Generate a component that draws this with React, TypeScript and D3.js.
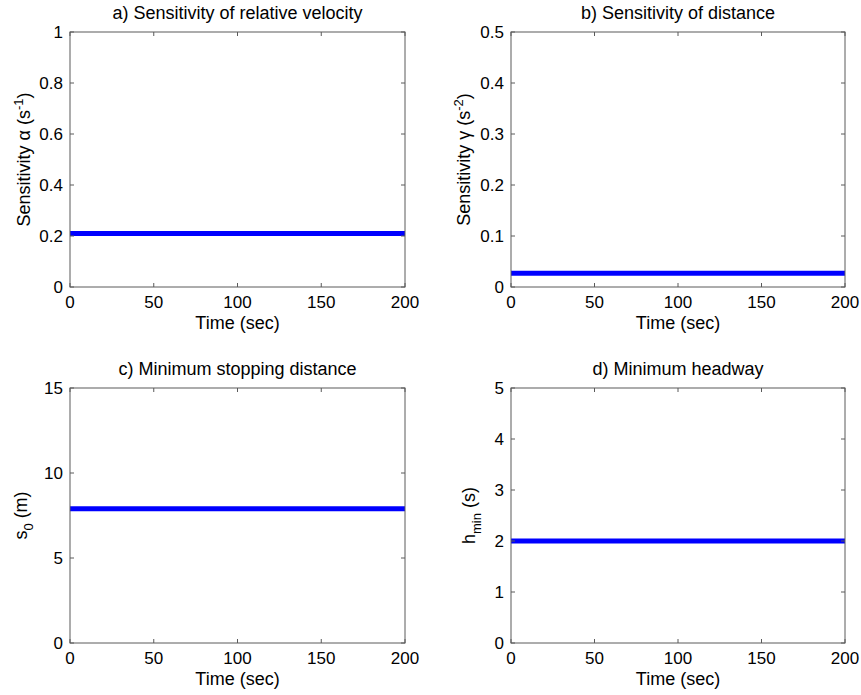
import React from "react";
import * as d3 from "d3";

const time = [0, 200];
const alphaValues = [0.21, 0.21];
const gammaValues = [0.027, 0.027];
const s0Values = [7.9, 7.9];
const hminValues = [2, 2];

const xTicks = [0, 50, 100, 150, 200];
const yTicksA = [0, 0.2, 0.4, 0.6, 0.8, 1];
const yTicksB = [0, 0.1, 0.2, 0.3, 0.4, 0.5];
const yTicksC = [0, 5, 10, 15];
const yTicksD = [0, 1, 2, 3, 4, 5];

const titles = [
  "a) Sensitivity of relative velocity",
  "b) Sensitivity of distance",
  "c) Minimum stopping distance",
  "d) Minimum headway",
];

type PanelProps = {
  left: number;
  top: number;
  width: number;
  height: number;
  yDomain: [number, number];
  yTicks: number[];
  values: number[];
  title: string;
  ylabel: React.ReactNode;
  ylabelX: number;
};

const FONT = "Liberation Sans, Arial, sans-serif";
const AX = "#5a5a5a";
const TICK_FS = 17;
const LABEL_FS = 18;

function Panel(p: PanelProps) {
  const x = d3.scaleLinear().domain([0, 200]).range([p.left, p.left + p.width]);
  const y = d3.scaleLinear().domain(p.yDomain).range([p.top + p.height, p.top]);
  const pts = time.map((t, i) => [t, p.values[i]] as [number, number]);
  const line = d3
    .line<[number, number]>()
    .x((d) => x(d[0]))
    .y((d) => y(d[1]));
  const bottom = p.top + p.height;
  const right = p.left + p.width;
  const tl = 4;
  const cy = p.top + p.height / 2;
  return (
    <g>
      <text
        x={p.left + p.width / 2}
        y={p.top - 13}
        textAnchor="middle"
        fontSize={LABEL_FS}
        fontFamily={FONT}
      >
        {p.title}
      </text>
      <path d={line(pts) || ""} stroke="#0000ff" strokeWidth={5} fill="none" />
      <rect
        x={p.left}
        y={p.top}
        width={p.width}
        height={p.height}
        fill="none"
        stroke={AX}
        strokeWidth={1}
      />
      {xTicks.map((t) => (
        <g key={"x" + t}>
          <line x1={x(t)} x2={x(t)} y1={bottom} y2={bottom - tl} stroke={AX} />
          <line x1={x(t)} x2={x(t)} y1={p.top} y2={p.top + tl} stroke={AX} />
          <text
            x={x(t)}
            y={bottom + 21}
            textAnchor="middle"
            fontSize={TICK_FS}
            fontFamily={FONT}
          >
            {t}
          </text>
        </g>
      ))}
      {p.yTicks.map((t) => (
        <g key={"y" + t}>
          <line x1={p.left} x2={p.left + tl} y1={y(t)} y2={y(t)} stroke={AX} />
          <line x1={right} x2={right - tl} y1={y(t)} y2={y(t)} stroke={AX} />
          <text
            x={p.left - 7}
            y={y(t)}
            dy="0.35em"
            textAnchor="end"
            fontSize={TICK_FS}
            fontFamily={FONT}
          >
            {t}
          </text>
        </g>
      ))}
      <text
        x={p.left + p.width / 2}
        y={bottom + 42}
        textAnchor="middle"
        fontSize={LABEL_FS}
        fontFamily={FONT}
      >
        Time (sec)
      </text>
      <text
        transform={`translate(${p.ylabelX},${cy}) rotate(-90)`}
        textAnchor="middle"
        fontSize={LABEL_FS}
        fontFamily={FONT}
      >
        {p.ylabel}
      </text>
    </g>
  );
}

export default function App() {
  const W = 335;
  const H = 255;
  return (
    <svg
      width={861}
      height={695}
      style={{ position: "absolute", left: 0, top: 0, background: "#fff" }}
    >
      <rect x={0} y={0} width={861} height={695} fill="#fff" />
      <Panel
        left={70}
        top={32}
        width={W}
        height={H}
        yDomain={[0, 1]}
        yTicks={yTicksA}
        values={alphaValues}
        title={titles[0]}
        ylabelX={30}
        ylabel={
          <>
            <tspan>Sensitivity α (s</tspan>
            <tspan dy={-7} fontSize={13}>-1</tspan>
            <tspan dy={7}>)</tspan>
          </>
        }
      />
      <Panel
        left={511}
        top={32}
        width={W - 1}
        height={H}
        yDomain={[0, 0.5]}
        yTicks={yTicksB}
        values={gammaValues}
        title={titles[1]}
        ylabelX={470}
        ylabel={
          <>
            <tspan>Sensitivity γ (s</tspan>
            <tspan dy={-7} fontSize={13}>-2</tspan>
            <tspan dy={7}>)</tspan>
          </>
        }
      />
      <Panel
        left={70}
        top={388}
        width={W}
        height={H}
        yDomain={[0, 15]}
        yTicks={yTicksC}
        values={s0Values}
        title={titles[2]}
        ylabelX={27}
        ylabel={
          <>
            <tspan>s</tspan>
            <tspan dy={6} fontSize={13}>0</tspan>
            <tspan dy={-6}> (m)</tspan>
          </>
        }
      />
      <Panel
        left={511}
        top={388}
        width={W - 1}
        height={H}
        yDomain={[0, 5]}
        yTicks={yTicksD}
        values={hminValues}
        title={titles[3]}
        ylabelX={475}
        ylabel={
          <>
            <tspan>h</tspan>
            <tspan dy={6} fontSize={13}>min</tspan>
            <tspan dy={-6}> (s)</tspan>
          </>
        }
      />
    </svg>
  );
}
